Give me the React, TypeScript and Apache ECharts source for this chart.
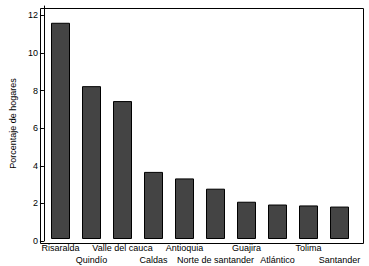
import React, { useEffect, useRef } from "react";
import * as echarts from "echarts";

const categories = [
  "Risaralda",
  "Quindío",
  "Valle del cauca",
  "Caldas",
  "Antioquia",
  "Norte de santander",
  "Guajira",
  "Atlántico",
  "Tolima",
  "Santander",
];
const values = [11.6, 8.2, 7.4, 3.6, 3.25, 2.7, 2.0, 1.85, 1.8, 1.74];
const yTicks = [0, 2, 4, 6, 8, 10, 12];
const yName = "Porcentaje de hogares";

const FONT = "'Liberation Sans', Arial, Helvetica, sans-serif";

const FRAME_LEFT = 38;
const FRAME_TOP = 6;
const FRAME_RIGHT = 8;
const FRAME_BOTTOM = 25;
const W = 369;
const H = 266;

export default function App() {
  const ref = useRef<HTMLDivElement>(null);
  useEffect(() => {
    if (!ref.current) return;
    const chart = echarts.init(ref.current, null, { renderer: "svg" });
    chart.setOption({
      animation: false,
      backgroundColor: "#fff",
      grid: [
        { left: FRAME_LEFT, right: FRAME_RIGHT, top: FRAME_TOP, bottom: FRAME_BOTTOM },
        { left: 45, right: 14, top: FRAME_TOP, bottom: FRAME_BOTTOM },
      ],
      graphic: [
        {
          type: "rect",
          left: FRAME_LEFT,
          top: FRAME_TOP,
          silent: true,
          z: 100,
          shape: {
            x: 0,
            y: 0,
            width: W - FRAME_LEFT - FRAME_RIGHT,
            height: H - FRAME_TOP - FRAME_BOTTOM,
          },
          style: { fill: "none", stroke: "#000", lineWidth: 1 },
        },
      ],
      xAxis: [
        {
          gridIndex: 0,
          type: "value",
          min: 0,
          max: 1,
          show: false,
        },
        {
          gridIndex: 1,
          type: "category",
          data: categories,
          boundaryGap: true,
          axisLine: { show: false },
          axisTick: { show: false },
          axisLabel: {
            interval: 0,
            margin: 3,
            fontSize: 9,
            fontFamily: FONT,
            color: "#000",
            lineHeight: 12,
            formatter: (v: string, i: number) => (i % 2 === 0 ? v : "\n" + v),
          },
        },
      ],
      yAxis: [
        {
          gridIndex: 0,
          type: "value",
          position: "left",
          min: 0,
          max: 12.5,
          interval: 2,
          name: yName,
          nameLocation: "middle",
          nameRotate: 90,
          nameGap: 24,
          nameTextStyle: { fontSize: 9, fontFamily: FONT, color: "#000" },
          axisLine: { show: true, onZero: false, lineStyle: { color: "#000", width: 1 } },
          axisTick: {
            show: true,
            length: 4,
            lineStyle: { color: "#000" },
            customValues: yTicks,
          },
          axisLabel: {
            fontSize: 9,
            fontFamily: FONT,
            color: "#000",
            margin: 6,
            customValues: yTicks,
          },
          splitLine: { show: false },
        },
        {
          gridIndex: 1,
          type: "value",
          min: 0,
          max: 12.5,
          show: false,
          splitLine: { show: false },
        },
      ],
      series: [
        {
          type: "bar",
          xAxisIndex: 1,
          yAxisIndex: 1,
          data: values,
          barWidth: 19,
          itemStyle: { color: "#444444", borderColor: "#000", borderWidth: 1 },
        },
      ],
    });
    return () => chart.dispose();
  }, []);
  return (
    <div
      ref={ref}
      style={{ position: "fixed", left: 0, top: 0, width: W, height: H }}
    />
  );
}
